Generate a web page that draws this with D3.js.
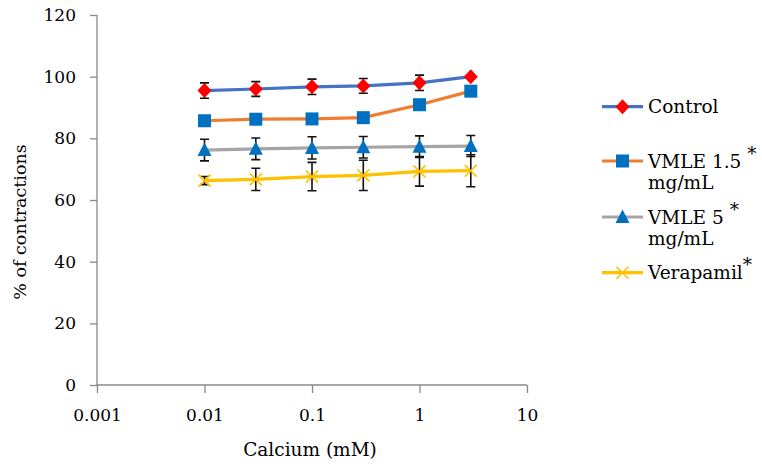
<!DOCTYPE html>
<html>
<head>
<meta charset="utf-8">
<script src="https://cdn.jsdelivr.net/npm/d3@7"></script>
<style>
  body { margin: 0; background: white; }
  svg text { font-family: "DejaVu Serif", "Liberation Serif", serif; fill: #000; }
</style>
</head>
<body>
<div id="chart-area"></div>
<script>
// data
var calcium = [0.01, 0.03, 0.1, 0.3, 1, 3];
var xTicks = [0.001, 0.01, 0.1, 1, 10];
var yTicks = [0, 20, 40, 60, 80, 100, 120];

var control = [95.5, 96, 96.7, 97, 98, 100];
var controlErr = [2.5, 2.4, 2.5, 2.4, 2.5, 0];
var vmle15 = [85.7, 86.2, 86.3, 86.7, 90.9, 95.3];
var vmle15Err = [1.2, 1.2, 1.2, 1.2, 1.2, 1.2];
var vmle5 = [76.2, 76.6, 76.9, 77.1, 77.3, 77.5];
var vmle5Err = [3.5, 3.5, 3.6, 3.5, 3.5, 3.4];
var verapamil = [66.3, 66.7, 67.6, 68.0, 69.3, 69.5];
var verapamilErr = [1.3, 3.6, 4.6, 4.9, 4.8, 5.2];

var legendLabels = [["Control"], ["VMLE 1.5", "mg/mL"], ["VMLE 5", "mg/mL"], ["Verapamil"]];
var legendStars = ["", " *", " *", "*"];

var series = [
  {name: "Control", values: control, err: controlErr, line: "#4472C4", marker: "diamond", fill: "#FF0000"},
  {name: "VMLE 1.5", values: vmle15, err: vmle15Err, line: "#ED7D31", marker: "square", fill: "#0070C0"},
  {name: "VMLE 5", values: vmle5, err: vmle5Err, line: "#A5A5A5", marker: "triangle", fill: "#0070C0"},
  {name: "Verapamil", values: verapamil, err: verapamilErr, line: "#FFC000", marker: "cross", fill: "#FFC000"}
];

var margin = {top: 15, left: 97};
var width = 430;
var height = 370;
var serif = "'DejaVu Serif', 'Liberation Serif', serif";

var svg = d3.select("#chart-area")
  .append("svg")
    .attr("width", 762)
    .attr("height", 466)
    .attr("font-family", serif);

var g = svg.append("g")
  .attr("transform", "translate(" + margin.left + ", " + margin.top + ")");

var x = d3.scaleLog()
  .domain([0.001, 10])
  .range([0, width]);

var y = d3.scaleLinear()
  .domain([0, 120])
  .range([height, 0]);

// axes
var leftAxis = d3.axisLeft(y)
  .tickValues(yTicks)
  .tickSize(7)
  .tickPadding(14)
  .tickFormat(d3.format("d"));

var bottomAxis = d3.axisBottom(x)
  .tickValues(xTicks)
  .tickSize(8)
  .tickPadding(16)
  .tickFormat(function(d) { return String(d); });

var yAxisGroup = g.append("g").attr("class", "y axis").call(leftAxis);
var xAxisGroup = g.append("g").attr("class", "x axis")
  .attr("transform", "translate(0, " + height + ")")
  .call(bottomAxis);

g.selectAll(".axis").attr("font-family", serif);
g.selectAll(".axis path, .axis line")
  .attr("stroke", "#888")
  .attr("stroke-width", 1.3);
g.selectAll(".axis .domain").each(function() {
  d3.select(this).attr("d", d3.select(this.parentNode).classed("y") ?
    "M0,0V" + height : "M0,0H" + width);
});
g.selectAll(".axis text")
  .attr("font-size", "17px")
  .attr("fill", "#000");

// axis labels
g.append("text")
  .attr("x", x(0.1) - 2)
  .attr("y", height + 71)
  .attr("font-size", "18.5px")
  .attr("text-anchor", "middle")
  .text("Calcium (mM)");

g.append("text")
  .attr("transform", "rotate(-90)")
  .attr("x", -(222 - margin.top))
  .attr("y", 26 - margin.left)
  .attr("font-size", "17.5px")
  .attr("text-anchor", "middle")
  .text("% of contractions");

// marker shapes
function markerPath(type) {
  if (type === "diamond") return "M0,-7.5L7,0L0,7.5L-7,0Z";
  if (type === "square") return "M-6.5,-6.5H6.5V6.5H-6.5Z";
  if (type === "triangle") return "M0,-7.5L7,6L-7,6Z";
  return "M-6,-6L6,6M-6,6L6,-6";
}
function drawMarker(sel, s) {
  var p = sel.append("path").attr("d", markerPath(s.marker));
  if (s.marker === "cross") {
    p.attr("fill", "none").attr("stroke", s.fill).attr("stroke-width", 1.6);
  } else {
    p.attr("fill", s.fill);
  }
}

var line = d3.line()
  .x(function(d, i) { return x(calcium[i]); })
  .y(function(d) { return y(d); });

// lines
series.forEach(function(s) {
  g.append("path")
    .datum(s.values)
    .attr("fill", "none")
    .attr("stroke", s.line)
    .attr("stroke-width", 3.2)
    .attr("d", line);
});

// error bars
series.forEach(function(s) {
  var eb = g.append("g").attr("class", "errorbars");
  s.values.forEach(function(v, i) {
    if (!s.err[i]) return;
    var cx = x(calcium[i]);
    var top = y(v + s.err[i]);
    var bot = y(v - s.err[i]);
    eb.append("path")
      .attr("d", "M" + cx + "," + top + "V" + bot +
        "M" + (cx - 4.5) + "," + top + "H" + (cx + 4.5) +
        "M" + (cx - 4.5) + "," + bot + "H" + (cx + 4.5))
      .attr("stroke", "#111")
      .attr("stroke-width", 1.6)
      .attr("fill", "none");
  });
});

// markers
series.forEach(function(s) {
  s.values.forEach(function(v, i) {
    var m = g.append("g")
      .attr("transform", "translate(" + x(calcium[i]) + "," + y(v) + ")");
    drawMarker(m, s);
  });
});

// legend
var legendY = [106.7, 161, 217, 272.7];
var legend = svg.append("g").attr("class", "legend");
series.forEach(function(s, i) {
  var row = legend.append("g").attr("transform", "translate(602," + legendY[i] + ")");
  row.append("line")
    .attr("x1", 0).attr("x2", 41)
    .attr("y1", 0).attr("y2", 0)
    .attr("stroke", s.line)
    .attr("stroke-width", 3.2);
  var m = row.append("g").attr("transform", "translate(20.5,0)");
  drawMarker(m, s);
  var t = row.append("text")
    .attr("x", 46)
    .attr("y", 6.5)
    .attr("font-size", "18.5px");
  legendLabels[i].forEach(function(l, j) {
    t.append("tspan")
      .attr("x", 46)
      .attr("dy", j === 0 ? 0 : 29.5)
      .text(l);
    if (j === 0 && legendStars[i]) {
      t.append("tspan")
        .attr("dy", -8)
        .text(legendStars[i]);
      t.append("tspan").attr("dy", 8).text("");
    }
  });
});
</script>
</body>
</html>
